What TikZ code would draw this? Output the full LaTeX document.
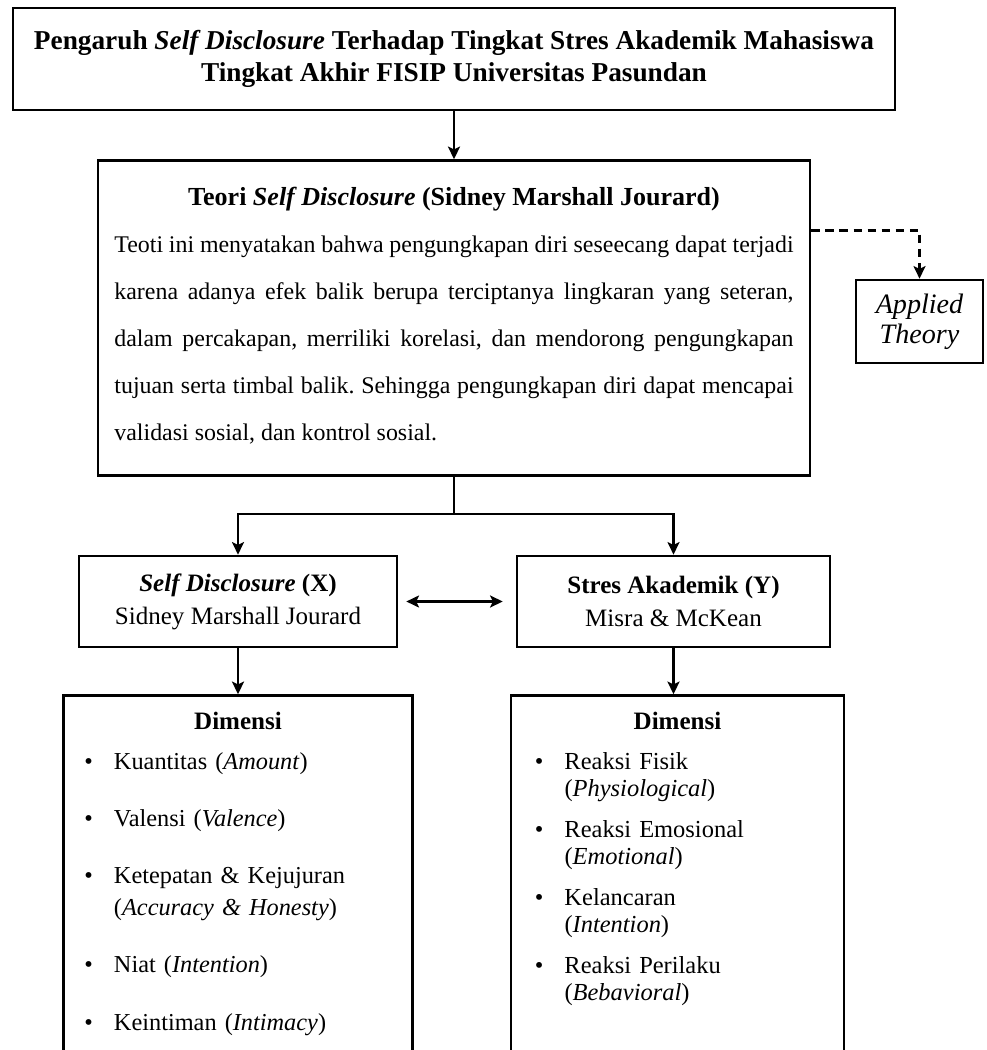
\documentclass[tikz,border=0pt]{standalone}
\usepackage{fontspec}
\setmainfont{Liberation Serif}
\usetikzlibrary{positioning,arrows.meta}
\tikzset{
kotak/.style={draw,inner sep=0pt}
, panah/.style={-{Stealth[length=9pt,width=8.5pt,inset=2pt]}}
, panahdua/.style={{Stealth[length=9pt,width=8.5pt,inset=2pt]}-{Stealth[length=9pt,width=8.5pt,inset=2pt]},shorten <=5.7pt,shorten >=9.2pt}
, garisputus/.style={panah,dash pattern=on 6pt off 4pt}
, dimensi/.style={kotak,align=left,anchor=north,text height=0.85cm}}
\def\sd{\textit{Self Disclosure}}
\def\butir{\makebox[21pt][l]{\textbullet}}
\def\lanjut{\hspace*{21pt}}
\frenchspacing

\begin{document}
\begin{tikzpicture}[x=0.025cm,y=-0.025cm,line width=1.8pt]
\useasboundingbox (0,0) rectangle (986,1050);
\clip (0,0) rectangle (986,1050);
\node[kotak,minimum width=22.05cm,minimum height=2.55cm,align=center,font={\fontsize{19.4}{22.8}\selectfont\bfseries}] at (454,59) (judul) {Pengaruh \sd{} Terhadap Tingkat Stres Akademik Mahasiswa\\Tingkat Akhir FISIP Universitas Pasundan};
\node[kotak,below=1.2cm of judul,text width=16.975cm,inner xsep=0.4125cm,align=justify,text height=1.125cm,text depth=6.75cm,font={\fontsize{17}{33.4}\selectfont}] (teori) {{\centering\fontsize{18.5}{33.4}\selectfont\bfseries Teori \sd{} (Sidney Marshall Jourard)\par}
\noindent Teoti ini menyatakan bahwa pengungkapan diri seseecang dapat terjadi\linebreak karena adanya efek balik berupa terciptanya lingkaran yang seteran,\linebreak dalam percakapan, merriliki korelasi, dan mendorong pengungkapan\linebreak tujuan serta timbal balik. Sehingga pengungkapan diri dapat mencapai\linebreak validasi sosial, dan kontrol sosial.};
\node[kotak,minimum width=3.175cm,minimum height=2.075cm,align=center,font={\fontsize{20}{21.3}\selectfont\itshape}] at (919.5,321.5) (terapan) {Applied\\Theory};
\node[kotak,minimum width=7.95cm,minimum height=2.275cm,align=center,font={\fontsize{17.8}{23.5}\selectfont}] at (238,601.5) (varx) {\textbf{\sd{} (X)}\\Sidney Marshall Jourard};
\node[kotak,minimum width=7.825cm,minimum height=2.275cm,align=center,font={\fontsize{17.8}{23.5}\selectfont}] at (673.5,601.5) (vary) {\textbf{Stres Akademik (Y)}\\Misra \& McKean};
\node[dimensi,below=1.15cm of varx,text width=7.675cm,inner xsep=0.525cm,text depth=8.8cm,font={\fontsize{17.3}{22.8}\selectfont}] (dimx) {{\centering\fontsize{17.8}{22.8}\selectfont\bfseries Dimensi\par}\vspace{5.7pt}
\noindent\butir Kuantitas (\textit{Amount})\\[17.8pt]
\butir Valensi (\textit{Valence})\\[17.8pt]
\butir Ketepatan \& Kejujuran\\
\lanjut(\textit{Accuracy \& Honesty})\\[17.8pt]
\butir Niat (\textit{Intention})\\[17.8pt]
\butir Keintiman (\textit{Intimacy})};
\node[dimensi,below=1.15cm of vary,xshift=0.1cm,text width=7.125cm,inner xsep=0.6cm,text depth=8.825cm,font={\fontsize{17.4}{19.2}\selectfont}] (dimy) {{\centering\fontsize{17.8}{19.2}\selectfont\bfseries Dimensi\par}\vspace{9.2pt}
\noindent\butir Reaksi Fisik\\
\lanjut(\textit{Physiological})\\[10pt]
\butir Reaksi Emosional\\
\lanjut(\textit{Emotional})\\[10pt]
\butir Kelancaran\\
\lanjut(\textit{Intention})\\[10pt]
\butir Reaksi Perilaku\\
\lanjut(\textit{Bebavioral})};
\coordinate[below=0.925cm of teori.south] (cabang);
\draw [panah] (judul) -- (teori);
\draw (teori) -- (cabang);
\draw [panah] (cabang) -| (varx);
\draw [panah] (cabang) -| (vary);
\draw [panahdua] (varx) -- (vary);
\draw [panah] (varx) -- (dimx);
\draw [panah] (vary.south) -- (vary.south |- dimy.north);
\draw [garisputus] ([yshift=-1.775cm]teori.north east) -| (terapan);
\end{tikzpicture}
\end{document}
